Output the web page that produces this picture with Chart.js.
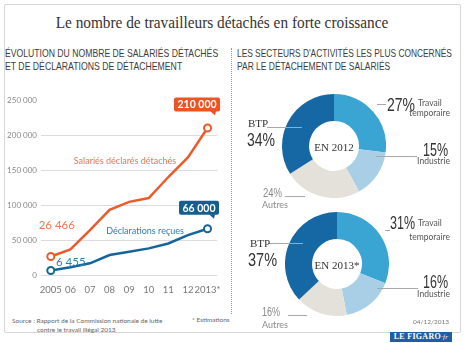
<!DOCTYPE html>
<html lang="fr">
<head>
<meta charset="utf-8">
<script src="https://cdn.jsdelivr.net/npm/chart.js@4/dist/chart.umd.min.js"></script>
<style>
  html, body { margin: 0; padding: 0; background: #fff; }
  body { width: 465px; height: 343px; position: relative; overflow: hidden; font-family: Lato, "Open Sans", sans-serif; }
  #card { position: absolute; left: 4px; top: 4px; width: 457px; height: 329px; border: 1px solid #d6d6d6; border-radius: 2px; box-sizing: border-box; }
  .t { position: absolute; white-space: nowrap; line-height: 1; }
  .l { transform: translate(0, -50%); transform-origin: left center; }
  .r { transform: translate(-100%, -50%); transform-origin: right center; }
  .c { transform: translate(-50%, -50%); transform-origin: center center; }
  .title { font-family: "Liberation Serif", serif; font-size: 17px; color: #333; }
  .head { font-family: "Liberation Sans", sans-serif; font-size: 11px; color: #3c3c3c; }
  .serif { font-family: "Liberation Serif", serif; color: #333; }
  .pct { font-family: "Liberation Sans", sans-serif; color: #333; }
  .small { font-family: Lato, sans-serif; color: #555; }
  .grey { color: #8a8a8a; }
  .lead { position: absolute; height: 1px; background: #a8a8a8; }
  #divider { position: absolute; left: 231px; top: 48px; height: 266px; border-left: 1px dotted #9a9a9a; }
  canvas { position: absolute; }
  #logo { position: absolute; left: 390px; top: 332px; width: 62px; height: 10px; background: #1d5ea6; color: #fff;
          font-family: "Liberation Serif", serif; font-weight: bold; font-size: 8px; line-height: 10px; text-align: center; letter-spacing: 0.3px; }
  #logo i { font-weight: normal; font-size: 7px; }
</style>
</head>
<body>
<div id="card"></div>

<div class="t c title" data-w="333" style="left:222px; top:22px;">Le nombre de travailleurs détachés en forte croissance</div>
<div class="t l head" data-w="213" style="left:5px; top:53px;">ÉVOLUTION DU NOMBRE DE SALARIÉS DÉTACHÉS</div>
<div class="t l head" data-w="177" style="left:5px; top:66px;">ET DE DÉCLARATIONS DE DÉTACHEMENT</div>
<div class="t l head" data-w="215" style="left:237px; top:53px;">LES SECTEURS D'ACTIVITÉS LES PLUS CONCERNÉS</div>
<div class="t l head" data-w="153" style="left:237px; top:66px;">PAR LE DÉTACHEMENT DE SALARIÉS</div>
<div id="divider"></div>

<canvas id="lines" width="230" height="300" style="left:0; top:0;"></canvas>
<div class="t c" id="nameA" style="left:125px; top:160px; font-size:9px; color:#ec7650;"></div>
<div class="t c" id="nameB" style="left:145px; top:230px; font-size:9px; color:#2c7fad;"></div>

<canvas id="donut12" width="104" height="104" style="left:282px; top:94px;"></canvas>
<canvas id="donut13" width="104" height="104" style="left:285px; top:212px;"></canvas>
<div class="t c serif" style="left:334px; top:147px; font-size:11px;">EN 2012</div>
<div class="t c serif" style="left:337px; top:265px; font-size:11px;">EN 2013*</div>

<!-- 2012 labels -->
<div class="lead" style="left:267px; top:127px; width:35px;"></div>
<div class="lead" style="left:377px; top:104px; width:9px;"></div>
<div class="lead" style="left:376px; top:156px; width:41px;"></div>
<div class="lead" style="left:285px; top:196px; width:20px;"></div>
<div class="t l serif" style="left:248px; top:123px; font-size:11px;" id="n12_3"></div>
<div class="t l pct" data-w="28" style="left:247px; top:140px; font-size:18px;" id="p12_3"></div>
<div class="t l pct" data-w="28" style="left:387px; top:105px; font-size:18px;" id="p12_0"></div>
<div class="t l small" style="left:418px; top:103px; font-size:8.5px;">Travail</div>
<div class="t r small" style="left:450px; top:113px; font-size:8.5px;">temporaire</div>
<div class="t r pct" data-w="25" style="left:448px; top:150px; font-size:18px;" id="p12_1"></div>
<div class="t r small" style="left:450px; top:161px; font-size:8.5px;" id="n12_1"></div>
<div class="t l pct grey" data-w="19" style="left:263px; top:193px; font-size:12px;" id="p12_2"></div>
<div class="t l small grey" style="left:262px; top:204px; font-size:9px;" id="n12_2"></div>

<!-- 2013 labels -->
<div class="lead" style="left:269px; top:243px; width:34px;"></div>
<div class="lead" style="left:385px; top:230px; width:5px;"></div>
<div class="lead" style="left:377px; top:288px; width:41px;"></div>
<div class="lead" style="left:288px; top:315px; width:19px;"></div>
<div class="t l serif" style="left:250px; top:243px; font-size:11px;" id="n13_3"></div>
<div class="t l pct" data-w="29" style="left:248px; top:260px; font-size:18px;" id="p13_3"></div>
<div class="t l pct" data-w="25" style="left:390px; top:223px; font-size:18px;" id="p13_0"></div>
<div class="t l small" style="left:418px; top:223px; font-size:8.5px;">Travail</div>
<div class="t r small" style="left:450px; top:237px; font-size:8.5px;">temporaire</div>
<div class="t r pct" data-w="25" style="left:448px; top:282px; font-size:18px;" id="p13_1"></div>
<div class="t r small" style="left:450px; top:294px; font-size:8.5px;" id="n13_1"></div>
<div class="t l pct grey" data-w="18" style="left:262px; top:312px; font-size:12px;" id="p13_2"></div>
<div class="t l small grey" style="left:262px; top:324px; font-size:9px;" id="n13_2"></div>

<!-- footer -->
<div class="t l small" style="left:12px; top:321px; font-size:6.5px; color:#666;">Source : Rapport de la Commission nationale de lutte</div>
<div class="t l small" style="left:37px; top:330px; font-size:6.5px; color:#666;">contre le travail illégal 2013</div>
<div class="t l small" style="left:192px; top:320px; font-size:6.5px; color:#666;">* Estimations</div>
<div class="t l small" style="left:413px; top:322px; font-size:6.5px; color:#777;">04/12/2013</div>
<div id="logo">LE FIGARO<i>·fr</i></div>

<script>
// Yearly figures
const years = ['2005', '06', '07', '08', '09', '10', '11', '12', '2013*'];
const salaries = [26466, 36500, 64000, 93000, 104500, 110000, 140000, 168000, 210000];
const declarations = [6455, 11000, 16700, 28600, 33300, 38000, 45000, 57000, 66000];
const yTicks = [0, 50000, 100000, 150000, 200000, 250000];

// Sector shares, clockwise from 12 o'clock
const sectors = ['Travail temporaire', 'Industrie', 'Autres', 'BTP'];
const sectorShort = ['Travail', 'Industrie', 'Autres', 'BTP'];
const share2012 = [27, 15, 24, 34];
const share2013 = [31, 16, 16, 37];
const sectorColors = ['#3aa5d3', '#a9cfe7', '#e3e1d9', '#1668a5'];

const ORANGE = '#ee5a2a', BLUE = '#15659a';

function fmt(v) {
  return String(v).replace(/\B(?=(\d{3})+(?!\d))/g, ' ');
}

document.getElementById('nameA').textContent = 'Salariés déclarés détachés';
document.getElementById('nameB').textContent = 'Déclarations reçues';

[[share2012, '12'], [share2013, '13']].forEach(([vals, tag]) => {
  vals.forEach((v, i) => {
    const p = document.getElementById('p' + tag + '_' + i);
    if (p) p.textContent = v + '%';
    const n = document.getElementById('n' + tag + '_' + i);
    if (n) n.textContent = sectorShort[i];
  });
});

// Condense headings and percentages horizontally to their set widths
document.querySelectorAll('[data-w]').forEach(el => {
  const k = (+el.dataset.w) / el.offsetWidth;
  const base = getComputedStyle(el).transform === 'none' ? '' : (
    el.classList.contains('l') ? 'translate(0,-50%)' :
    el.classList.contains('r') ? 'translate(-100%,-50%)' : 'translate(-50%,-50%)');
  el.style.transform = base + ' scaleX(' + k.toFixed(3) + ')';
});

// Value labels at the ends of each line: plain text at the start, tagged box at the end
const endLabels = {
  id: 'endLabels',
  afterDatasetsDraw(chart, args, opts) {
    const ctx = chart.ctx;
    chart.data.datasets.forEach((ds, di) => {
      const meta = chart.getDatasetMeta(di);
      const o = opts.items[di];
      const p0 = meta.data[0];
      const v0 = ds.data[0];
      ctx.save();
      ctx.font = '11.5px Lato';
      ctx.fillStyle = o.textColor;
      ctx.textAlign = 'center';
      ctx.textBaseline = 'middle';
      ctx.fillText(fmt(v0), p0.x + o.first[0], p0.y + o.first[1]);

      const n = meta.data.length - 1;
      const pn = meta.data[n];
      const txt = fmt(ds.data[n]);
      ctx.font = 'bold 10.5px Lato';
      const w = ctx.measureText(txt).width + 7;
      const h = 14;
      const cx = pn.x + o.last[0], cy = pn.y + o.last[1];
      const x0 = cx - w / 2, y0 = cy - h / 2;
      ctx.fillStyle = o.boxColor;
      ctx.beginPath();
      ctx.roundRect(x0, y0, w, h, 2);
      ctx.fill();
      ctx.beginPath();
      ctx.moveTo(x0 + w - 10, y0 + h - 0.5);
      ctx.lineTo(x0 + w - 4, y0 + h - 0.5);
      ctx.lineTo(x0 + w - 5, y0 + h + 4);
      ctx.closePath();
      ctx.fill();
      ctx.fillStyle = '#fff';
      ctx.fillText(txt, cx, cy + 0.5);
      ctx.restore();
    });
  }
};

const lastIdx = years.length - 1;
const endPoint = (ctx) => (ctx.dataIndex === 0 || ctx.dataIndex === lastIdx) ? 3.5 : 0;

new Chart(document.getElementById('lines'), {
  type: 'line',
  data: {
    labels: years,
    datasets: [
      { label: 'Salariés déclarés détachés', data: salaries, borderColor: ORANGE, borderWidth: 2.5,
        pointRadius: endPoint, pointBackgroundColor: '#fff', pointBorderColor: ORANGE, pointBorderWidth: 2, tension: 0 },
      { label: 'Déclarations reçues', data: declarations, borderColor: BLUE, borderWidth: 2.5,
        pointRadius: endPoint, pointBackgroundColor: '#fff', pointBorderColor: BLUE, pointBorderWidth: 2, tension: 0 }
    ]
  },
  options: {
    responsive: false,
    animation: false,
    devicePixelRatio: 1,
    layout: { padding: { top: 100, right: 8, left: 0, bottom: 0 } },
    plugins: {
      legend: { display: false },
      tooltip: { enabled: false },
      endLabels: {
        items: [
          { textColor: '#ec7650', boxColor: '#ea5526', first: [6, -31.5], last: [-10.5, -23.5] },
          { textColor: '#2c7fad', boxColor: '#145f8d', first: [20, -8.5], last: [-8.5, -21] }
        ]
      }
    },
    scales: {
      x: {
        offset: true,
        grid: { display: false, drawTicks: false },
        border: { display: false },
        ticks: { color: '#777', font: { family: 'Lato', size: 9.5 }, padding: 9, maxRotation: 0, autoSkip: false },
        afterFit(s) { s.height = 25; }
      },
      y: {
        min: 0, max: 250000,
        afterBuildTicks(s) { s.ticks = yTicks.map(v => ({ value: v })); },
        grid: { color: (c) => c.tick && c.tick.value === 250000 ? 'rgba(0,0,0,0)' : '#dcdcdc', drawTicks: false, lineWidth: 1 },
        border: { display: false },
        ticks: { color: '#888', font: { family: 'Lato', size: 8 }, padding: 4, callback: (v) => v === 0 ? '0' : fmt(v) },
        afterFit(s) { s.width = 41; }
      }
    }
  },
  plugins: [endLabels]
});

function donut(id, values) {
  new Chart(document.getElementById(id), {
    type: 'doughnut',
    data: {
      labels: sectors,
      datasets: [{ data: values, backgroundColor: sectorColors, borderWidth: 0, hoverOffset: 0 }]
    },
    options: {
      responsive: false,
      animation: false,
      devicePixelRatio: 1,
      cutout: '48%',
      rotation: 0,
      layout: { padding: 0 },
      plugins: { legend: { display: false }, tooltip: { enabled: false } }
    }
  });
}
donut('donut12', share2012);
donut('donut13', share2013);
</script>
</body>
</html>
